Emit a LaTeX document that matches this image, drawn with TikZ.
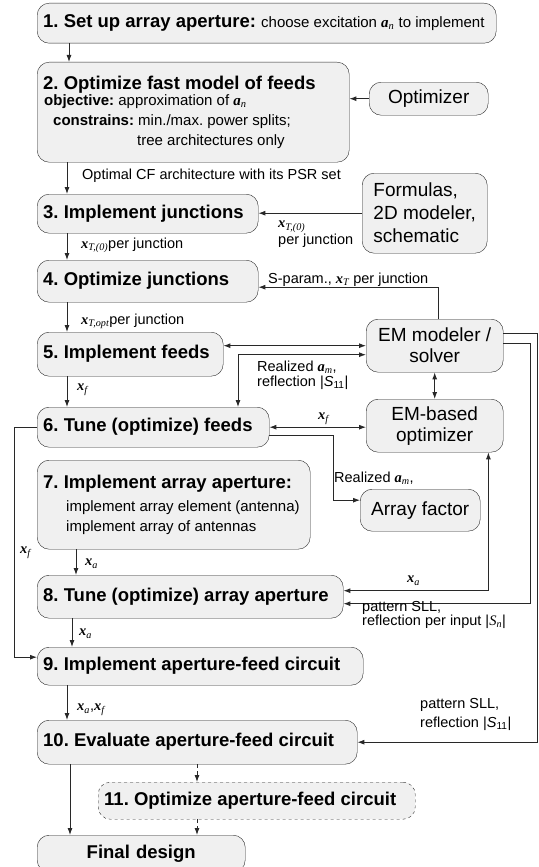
\documentclass[tikz,border=0pt]{standalone}
\usepackage{fontspec}
\setmainfont{Liberation Sans}
\newfontfamily\serifit{Liberation Serif}
\definecolor{boxfill}{RGB}{240,240,240}
\definecolor{linegray}{RGB}{40,40,40}
\usetikzlibrary{arrows.meta,positioning,calc}
\frenchspacing
\newcommand\ttlfont{\fontsize{18.5}{20}\selectfont\bfseries}
\newcommand\subfont{\fontsize{15}{20}\selectfont}
\newcommand\toolfont{\fontsize{19}{21}\selectfont}
\newcommand\lblfont{\fontsize{14.5}{14}\selectfont}
\newcommand\vv[2]{{\serifit\bfseries\itshape #1}\textsubscript{\serifit\itshape #2}}

\begin{document}
\begin{tikzpicture}[x=1pt,y=-1pt,
  stepbox/.style={draw=linegray,fill=boxfill,rounded corners=12pt,anchor=north west,
    align=flush left,inner xsep=6pt,inner ysep=0pt,font=\ttlfont},
  toolbox/.style={draw=linegray,fill=boxfill,rounded corners=12pt,anchor=north west,
    align=center,inner sep=0pt,font=\toolfont},
  lbl/.style={anchor=north west,inner sep=0pt,align=left,font=\lblfont},
  arr/.style={-{Latex[length=7pt,width=5pt]},linegray,line width=0.9pt},
  darr/.style={{Latex[length=7pt,width=5pt]}-{Latex[length=7pt,width=5pt]},linegray,line width=0.9pt},
  dasharr/.style={arr,dash pattern=on 4pt off 3pt}]
  \useasboundingbox (0,0) rectangle (538,867);

  % design steps
  \node[stepbox,text width=447pt,minimum height=40pt] (s1) at (37,3)
    {1. Set up array aperture: {\subfont\mdseries choose excitation \vv{a}{n} to implement}};
  \node[stepbox,text width=300pt,minimum height=100pt] (s2) at (37,62)
    {2. Optimize fast model of feeds\\[-4pt]
     \subfont\hspace*{1pt}objective: \mdseries approximation of \vv{a}{n}\\
     \bfseries\hspace*{10pt}constrains: \mdseries min./max. power splits;\\
     \hspace*{94pt}tree architectures only};
  \node[stepbox,text width=209pt,minimum height=39pt] (s3) at (37,194) {3. Implement junctions};
  \node[stepbox,text width=209pt,minimum height=42pt] (s4) at (37,260) {4. Optimize junctions};
  \node[stepbox,text width=174pt,minimum height=44pt] (s5) at (37,332) {5. Implement feeds};
  \node[stepbox,text width=220pt,minimum height=40pt] (s6) at (37,407) {6. Tune (optimize) feeds};
  \node[stepbox,text width=261pt,minimum height=89pt] (s7) at (37,460)
    {7. Implement array aperture:\\[3pt]
     \subfont\mdseries\hspace*{23pt}implement array element (antenna)\\
     \hspace*{23pt}implement array of antennas};
  \node[stepbox,text width=294pt,minimum height=43pt] (s8) at (37,575) {8. Tune (optimize) array aperture};
  \node[stepbox,text width=314pt,minimum height=38pt] (s9) at (37,647) {9. Implement aperture-feed circuit};
  \node[stepbox,text width=308pt,minimum height=44pt] (s10) at (37,720) {10. Evaluate aperture-feed circuit};
  \node[stepbox,dashed,text width=305pt,minimum height=37pt] (s11) at (98,782) {11. Optimize aperture-feed circuit};
  \node[stepbox,align=center,text width=196pt,minimum height=37pt] (fin) at (37,835) {\raisebox{3pt}{Final design}};

  % tools
  \node[toolbox,minimum width=119pt,minimum height=33pt] (opt) at (369,82) {Optimizer};
  \node[toolbox,align=left,minimum width=125pt,minimum height=80pt] (form) at (362,173)
    {Formulas,\\[2pt]2D modeler,\\[2pt]schematic};
  \node[toolbox,minimum width=137pt,minimum height=53pt] (em) at (366,319) {EM modeler /\\solver};
  \node[toolbox,minimum width=137pt,minimum height=53pt] (emopt) at (366,399) {EM-based\\optimizer};
  \node[toolbox,minimum width=120pt,minimum height=42pt] (af) at (360,489) {Array factor};

  % main flow
  \draw[arr] ([xshift=32pt]s1.south west) -- ([xshift=32pt]s2.north west);
  \draw[arr] ([xshift=30pt]s2.south west) -- ([xshift=30pt]s3.north west);
  \draw[arr] ([xshift=30pt]s3.south west) -- ([xshift=30pt]s4.north west);
  \draw[arr] ([xshift=30pt]s4.south west) -- ([xshift=30pt]s5.north west);
  \draw[arr] ([xshift=30pt]s5.south west) -- ([xshift=30pt]s6.north west);
  \draw[arr] ([xshift=39pt]s7.south west) -- ([xshift=39pt]s8.north west);
  \draw[arr] ([xshift=35pt]s8.south west) -- ([xshift=35pt]s9.north west);
  \draw[arr] ([xshift=30pt]s9.south west) -- ([xshift=30pt]s10.north west);
  \draw[arr] ([xshift=33pt]s10.south west) -- ([xshift=33pt]fin.north west);
  \draw[dasharr] ([xshift=160pt]s10.south west) -- ([xshift=99pt]s11.north west);
  \draw[dasharr] ([xshift=99pt]s11.south west) -- ([xshift=160pt]fin.north west);

  % tool links
  \draw[arr] (opt.west) -- (s2.east |- opt.west);
  \draw[arr] (form.west) -- (s3.east |- form.west);
  \draw[arr] ([xshift=4pt]em.north) |- ([yshift=-6pt]s4.east);
  \draw[darr] (s5.east |- em.west) -- (em.west);
  \draw[darr] ([yshift=-9pt]em.west) -| ([xshift=201pt]s6.north west);
  \draw[darr] (em.south) -- (emopt.north);
  \draw[darr] (s6.east) -- (emopt.west |- s6.east);
  \draw[arr] (s6.west) -- ++(-23,0) |- ([yshift=9pt]s9.west);
  \draw[arr] ([yshift=-8pt]s6.east) -- ++(64,0) |- ([yshift=10pt]af.west);
  \draw[darr] ([xshift=-15pt]emopt.south east) |- ([yshift=6pt]s8.east);
  \draw[arr] ([yshift=2pt]em.east) -- ++(27,0) |- ([yshift=-7pt]s8.east);
  \draw[arr] ([yshift=12pt]em.east) -- ++(34,0) |- (s10.east);

  % labels
  \node[lbl] (lcf) at (82,169) {Optimal CF architecture with its PSR set};
  \node[lbl] (lform) at (278,221) {\vv{x}{T,(0)}\\[1pt]per junction};
  \node[lbl] (ljn1) at (81,238) {\vv{x}{T,(0)}per junction};
  \node[lbl] (lsp) at (268,273) {S-param., \vv{x}{T} per junction};
  \node[lbl] (ljn2) at (81,314) {\vv{x}{T,opt}per junction};
  \node[lbl] (lxf1) at (77,384) {\vv{x}{f}};
  \node[lbl] (lreal1) at (257,361) {Realized \vv{a}{m},\\[1pt]reflection |\textit{S}\textsubscript{11}|};
  \node[lbl] (lxf2) at (318,413) {\vv{x}{f}};
  \node[lbl] (lxf3) at (20,547) {\vv{x}{f}};
  \node[lbl] (lreal2) at (334,472) {Realized \vv{a}{m},};
  \node[lbl] (lxa1) at (85,559) {\vv{x}{a}};
  \node[lbl] (lxa2) at (407,576) {\vv{x}{a}};
  \node[lbl] (lsll1) at (362,601) {pattern SLL,\\reflection per input |{\serifit\itshape S}\textsubscript{\serifit\itshape n}|};
  \node[lbl] (lxa3) at (79,629) {\vv{x}{a}};
  \node[lbl] (lxax) at (77,704) {\vv{x}{a},\vv{x}{f}};
  \node[lbl] (lsll2) at (420,698) {pattern SLL,\\[5pt]reflection |\textit{S}\textsubscript{11}|};
\end{tikzpicture}
\end{document}
